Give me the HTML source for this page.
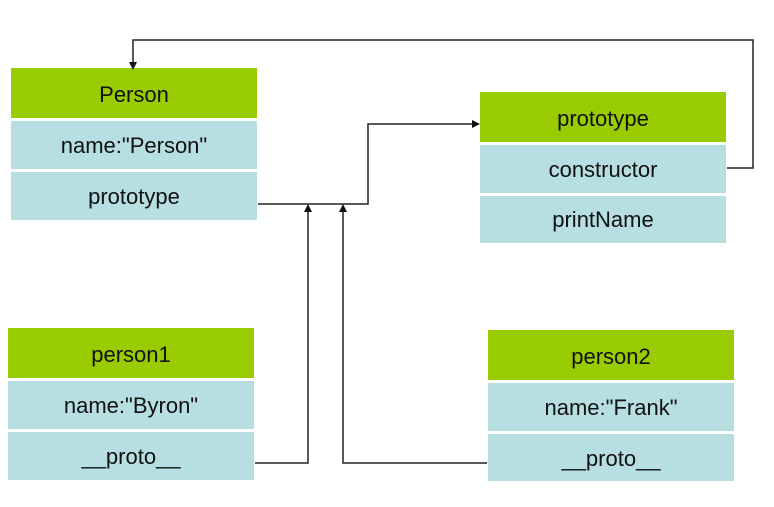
<!DOCTYPE html>
<html><head><meta charset="utf-8"><style>
html,body{margin:0;padding:0;background:#fff;}
svg{display:block;}
text{font-family:"Liberation Sans",Arial,sans-serif;font-size:22px;fill:#111;text-anchor:middle;}
</style></head><body>
<svg width="774" height="507" viewBox="0 0 774 507" xmlns="http://www.w3.org/2000/svg">
<defs><marker id="a" markerWidth="8" markerHeight="8" refX="4" refY="4" orient="auto" markerUnits="userSpaceOnUse"><path d="M0,0 L8,4 L0,8 z" fill="#111"/></marker></defs>
<rect x="11" y="68" width="246" height="50" fill="#99cc00"/>
<rect x="11" y="121" width="246" height="48" fill="#b7dfe2"/>
<rect x="11" y="172" width="246" height="48" fill="#b7dfe2"/>
<text x="134" y="102">Person</text>
<text x="134" y="153">name:"Person"</text>
<text x="134" y="204">prototype</text>
<rect x="480" y="92" width="246" height="50" fill="#99cc00"/>
<rect x="480" y="145" width="246" height="48" fill="#b7dfe2"/>
<rect x="480" y="196" width="246" height="47" fill="#b7dfe2"/>
<text x="603" y="126">prototype</text>
<text x="603" y="177">constructor</text>
<text x="603" y="227">printName</text>
<rect x="8" y="328" width="246" height="50" fill="#99cc00"/>
<rect x="8" y="381" width="246" height="48" fill="#b7dfe2"/>
<rect x="8" y="432" width="246" height="48" fill="#b7dfe2"/>
<text x="131" y="362">person1</text>
<text x="131" y="413">name:"Byron"</text>
<text x="131" y="464">__proto__</text>
<rect x="488" y="330" width="246" height="50" fill="#99cc00"/>
<rect x="488" y="383" width="246" height="48" fill="#b7dfe2"/>
<rect x="488" y="434" width="246" height="47" fill="#b7dfe2"/>
<text x="611" y="364">person2</text>
<text x="611" y="415">name:"Frank"</text>
<text x="611" y="466">__proto__</text>
<g stroke="#222" stroke-width="1.5" fill="none">
<polyline points="258,204 368,204 368,124 476,124" marker-end="url(#a)"/>
<polyline points="727,168 753,168 753,40 133,40 133,66" marker-end="url(#a)"/>
<polyline points="255,463 308,463 308,208" marker-end="url(#a)"/>
<polyline points="487,463 343,463 343,208" marker-end="url(#a)"/>
</g>
</svg>
</body></html>
